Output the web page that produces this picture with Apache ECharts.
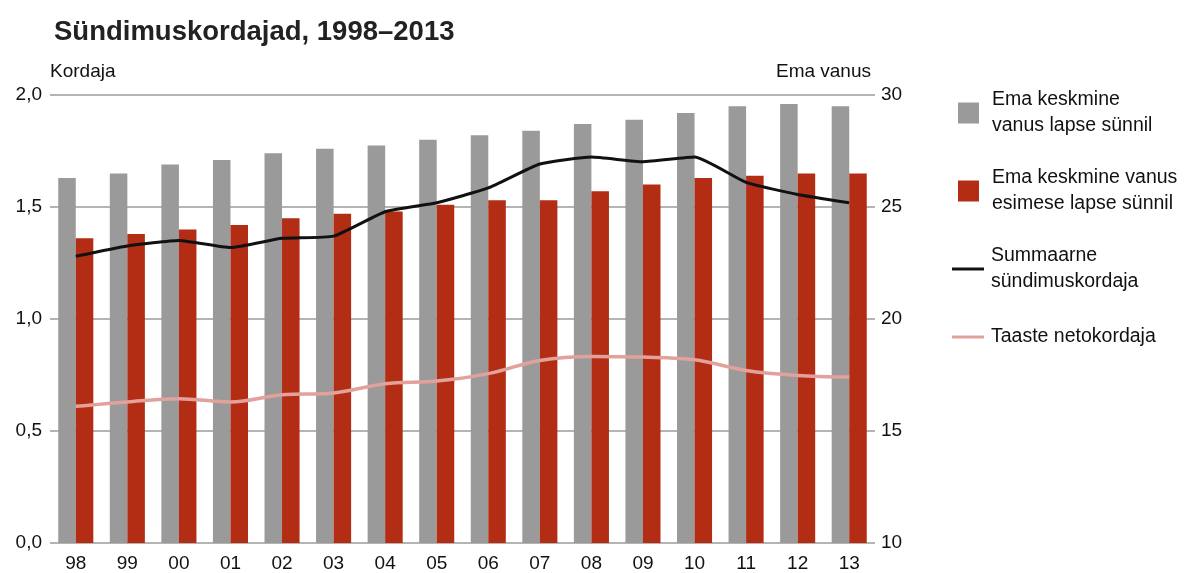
<!DOCTYPE html>
<html>
<head>
<meta charset="utf-8">
<script src="https://cdn.jsdelivr.net/npm/echarts@6/dist/echarts.min.js"></script>
<style>
  html, body { margin: 0; padding: 0; background: #fff; }
  #main { width: 1190px; height: 573px; }
</style>
</head>
<body>
<div id="main"></div>
<script>
// aastad (x-telg)
const years = ["98", "99", "00", "01", "02", "03", "04", "05", "06", "07", "08", "09", "10", "11", "12", "13"];
// ema keskmine vanus lapse sünnil (parem telg)
const ageAllBirths = [26.3, 26.5, 26.9, 27.1, 27.4, 27.6, 27.75, 28.0, 28.2, 28.4, 28.7, 28.9, 29.2, 29.5, 29.6, 29.5];
// ema keskmine vanus esimese lapse sünnil (parem telg)
const ageFirstBirth = [23.6, 23.8, 24.0, 24.2, 24.5, 24.7, 24.8, 25.1, 25.3, 25.3, 25.7, 26.0, 26.3, 26.4, 26.5, 26.5];
// summaarne sündimuskordaja (vasak telg)
const tfr = [1.28, 1.326, 1.351, 1.319, 1.36, 1.37, 1.479, 1.519, 1.585, 1.692, 1.723, 1.702, 1.723, 1.61, 1.556, 1.519];
// taaste netokordaja (vasak telg)
const nrr = [0.61, 0.63, 0.644, 0.63, 0.662, 0.67, 0.711, 0.723, 0.756, 0.815, 0.833, 0.83, 0.818, 0.77, 0.748, 0.741];

const font = "'Liberation Sans', Arial, sans-serif";
const chart = echarts.init(document.getElementById("main"), null, { renderer: "canvas" });

const option = {
  animation: false,
  textStyle: { fontFamily: font },
  title: {
    text: "Sündimuskordajad, 1998–2013",
    left: 49,
    top: 13,
    textStyle: { fontFamily: font, fontSize: 27.5, fontWeight: "bold", color: "#222" },
  },
  legend: [
    {
      orient: "vertical",
      left: 953,
      top: 82,
      itemWidth: 21,
      itemHeight: 21,
      itemGap: 26,
      icon: "rect",
      data: ["Ema keskmine\nvanus lapse sünnil", "Ema keskmine vanus\nesimese lapse sünnil"],
      textStyle: { fontFamily: font, fontSize: 19.5, color: "#111", lineHeight: 26, padding: [0, 0, 0, 8] },
    },
    {
      orient: "vertical",
      left: 947,
      top: 238,
      itemWidth: 32,
      itemHeight: 3,
      itemGap: 29,
      icon: "rect",
      data: ["Summaarne\nsündimuskordaja", "Taaste netokordaja"],
      textStyle: { fontFamily: font, fontSize: 19.5, color: "#111", lineHeight: 26, padding: [0, 0, 0, 2] },
    },
  ],
  grid: { left: 50, right: 315, top: 95, bottom: 28 },
  xAxis: {
    type: "category",
    data: years,
    axisLine: { show: false },
    axisTick: { show: false },
    axisLabel: { fontFamily: font, fontSize: 19, color: "#111", margin: 11 },
  },
  yAxis: [
    {
      type: "value",
      min: 0,
      max: 2,
      interval: 0.5,
      name: "Kordaja",
      nameLocation: "end",
      nameGap: 23,
      nameTextStyle: { fontFamily: font, fontSize: 19, color: "#111", align: "left", verticalAlign: "middle" },
      axisLine: { show: false },
      axisTick: { show: false },
      axisLabel: {
        fontFamily: font, fontSize: 19, color: "#111", margin: 8,
        formatter: (v) => v.toFixed(1).replace(".", ","),
      },
      splitLine: { lineStyle: { color: "#b4b4b4", width: 2 } },
    },
    {
      type: "value",
      min: 10,
      max: 30,
      interval: 5,
      position: "right",
      name: "Ema vanus",
      nameLocation: "end",
      nameGap: 23,
      nameTextStyle: { fontFamily: font, fontSize: 19, color: "#111", align: "right", verticalAlign: "middle", padding: [0, 4, 0, 0] },
      axisLine: { show: false },
      axisTick: { show: false },
      axisLabel: { fontFamily: font, fontSize: 19, color: "#111", margin: 6 },
      splitLine: { show: false },
    },
  ],
  series: [
    {
      name: "Ema keskmine\nvanus lapse sünnil",
      type: "bar",
      yAxisIndex: 1,
      data: ageAllBirths,
      itemStyle: { color: "#9a9a9a" },
      barGap: "0%",
      barCategoryGap: "32%",
    },
    {
      name: "Ema keskmine vanus\nesimese lapse sünnil",
      type: "bar",
      yAxisIndex: 1,
      data: ageFirstBirth,
      itemStyle: { color: "#b22d14" },
      barGap: "0%",
      barCategoryGap: "32%",
    },
    {
      name: "Summaarne\nsündimuskordaja",
      type: "line",
      yAxisIndex: 0,
      data: tfr,
      symbol: "none",
      smooth: 0.15,
      lineStyle: { color: "#111", width: 3 },
      itemStyle: { color: "#111" },
    },
    {
      name: "Taaste netokordaja",
      type: "line",
      yAxisIndex: 0,
      data: nrr,
      symbol: "none",
      smooth: 0.35,
      lineStyle: { color: "#e2a19a", width: 3.5 },
      itemStyle: { color: "#e2a19a" },
    },
  ],
};

chart.setOption(option);
</script>
</body>
</html>
